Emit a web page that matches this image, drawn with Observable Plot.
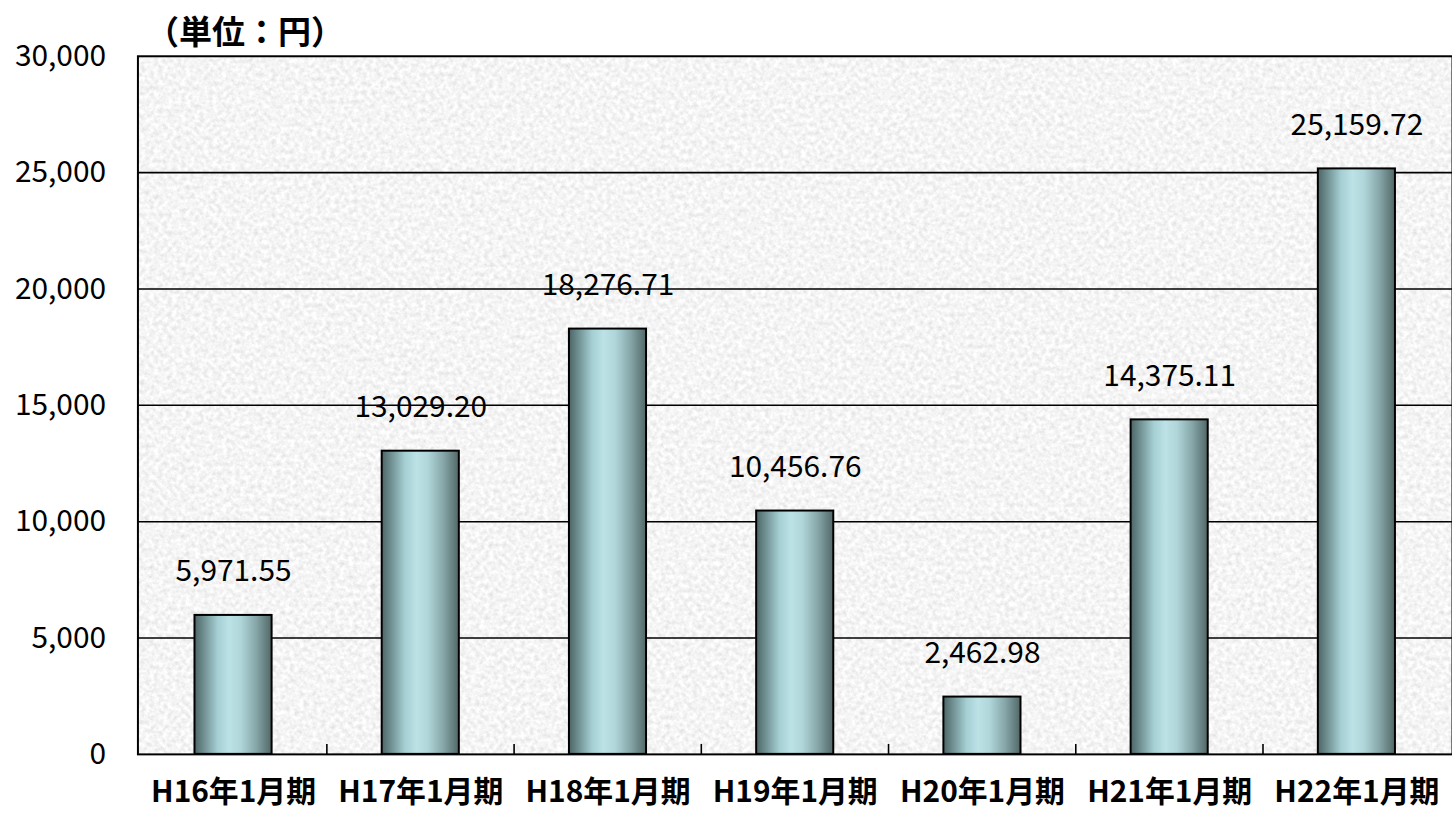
<!DOCTYPE html>
<html><head><meta charset="utf-8">
<script src="https://cdn.jsdelivr.net/npm/d3@7"></script>
<script src="https://cdn.jsdelivr.net/npm/@observablehq/plot@0.6"></script>
<style>
html,body{margin:0;padding:0;background:#fff;overflow:hidden;}
#wrap{position:relative;width:1452px;height:819px;overflow:hidden;}
#title{position:absolute;left:146px;top:13px;line-height:34px;font-family:"Noto Sans CJK JP",sans-serif;font-size:33px;font-weight:bold;color:#000;}
#chart{position:absolute;left:0;top:0;}
</style></head><body>
<div id="wrap"><div id="chart"></div><div id="title">（単位：円）</div></div>
<script>
const categories = ["H16年1月期","H17年1月期","H18年1月期","H19年1月期","H20年1月期","H21年1月期","H22年1月期"];
const values = [5971.55, 13029.20, 18276.71, 10456.76, 2462.98, 14375.11, 25159.72];
const yTicks = [0, 5000, 10000, 15000, 20000, 25000, 30000];

const W = 1458, H = 819, mL = 138, mT = 56, mB = 62, mR = 0;
const step = (W - mL - mR) / categories.length;
const barWidth = 78;
const inset = (step - barWidth) / 2;
const data = categories.map((c, i) => ({cat: c, value: values[i]}));
const fmt = d3.format(",.2f");
const font = '"Noto Sans CJK JP", sans-serif';

const plot = Plot.plot({
  width: W, height: H,
  marginLeft: mL, marginTop: mT, marginBottom: mB, marginRight: mR,
  style: {fontFamily: font, fontSize: "30px", color: "#000", background: "transparent", overflow: "visible"},
  x: {domain: categories, padding: 0, label: null},
  y: {domain: [0, 30000], label: null},
  marks: [
    Plot.frame({fill: "#e9e9e9", ariaLabel: "bgframe"}),
    Plot.ruleY(yTicks.filter(t => t > 0 && t < 30000), {stroke: "#000", strokeWidth: 1.6}),
    Plot.barY(data, {x: "cat", y: "value", fill: "url(#barGrad)", stroke: "#000", strokeWidth: 2, insetLeft: inset, insetRight: inset}),
    Plot.text(data, {x: "cat", y: "value", text: d => fmt(d.value), dy: -44, fontSize: 30, fill: "#000"}),
    Plot.ruleX(categories.slice(1), {x: d => d, y1: 0, y2: 0, insetTop: -10, dx: -step / 2, stroke: "#000", strokeWidth: 1.6}),
    Plot.frame({stroke: "#000", strokeWidth: 2}),
    Plot.axisY({ticks: yTicks, tickFormat: d3.format(","), tickSize: 0, tickPadding: 32, fontSize: 30}),
    Plot.axisX({tickSize: 0, tickPadding: 27, fontSize: 30, fontWeight: "bold"})
  ]
});

const svg = d3.select(plot);
const defs = svg.insert("defs", ":first-child");
const g = defs.append("linearGradient").attr("id", "barGrad").attr("x1", 0).attr("x2", 1).attr("y1", 0).attr("y2", 0);
[[0, "#4d6566"], [0.12, "#6f8f91"], [0.3, "#a5cfd3"], [0.45, "#bce2e6"], [0.6, "#b0d6da"], [0.8, "#86a6a8"], [1, "#526767"]]
  .forEach(([o, c]) => g.append("stop").attr("offset", o).attr("stop-color", c));
const f = defs.append("filter").attr("id", "noise").attr("x", 0).attr("y", 0).attr("width", 1).attr("height", 1);
f.append("feTurbulence").attr("type", "fractalNoise").attr("baseFrequency", 0.22).attr("numOctaves", 3).attr("seed", 7).attr("result", "t");
f.append("feColorMatrix").attr("type", "matrix")
  .attr("values", "0.4 0 0 0 0.71  0.4 0 0 0 0.71  0.4 0 0 0 0.71  0 0 0 0 1");
svg.select('[aria-label="bgframe"]').attr("filter", "url(#noise)");
document.getElementById("chart").appendChild(plot);
</script>
</body></html>
